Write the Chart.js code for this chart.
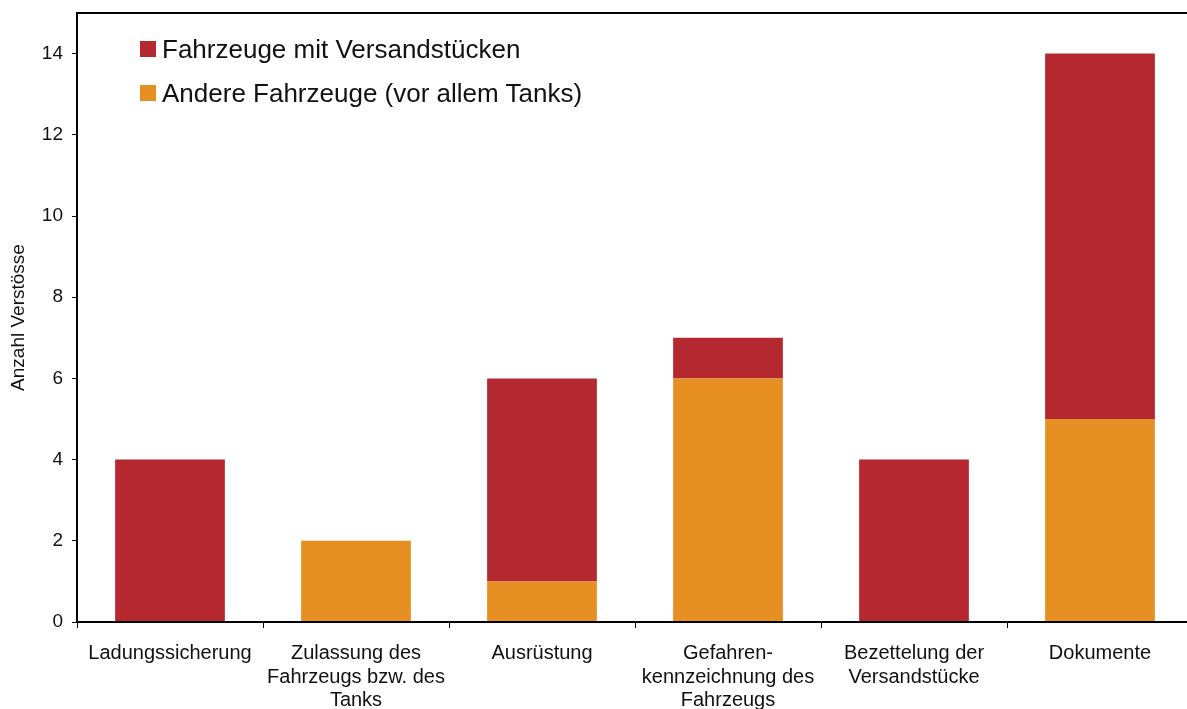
<!DOCTYPE html>
<html>
<head>
<meta charset="utf-8">
<script src="https://cdn.jsdelivr.net/npm/chart.js@4.4.1/dist/chart.umd.min.js"></script>
<style>
    html, body { margin: 0; padding: 0; background: #fff; overflow: hidden; }
    #wrap { position: relative; width: 1196px; height: 709px; }
    #legend { position: absolute; left: 140px; top: 27px; font-family: "Liberation Sans", Arial, sans-serif; font-size: 26px; color: #111; }
    #legend div { display: flex; align-items: center; height: 44px; }
    #legend span.box { display: inline-block; width: 16px; height: 16px; margin-right: 6px; }
</style>
</head>
<body>
<div id="wrap">
    <canvas id="chart" width="1196" height="709"></canvas>
    <div id="legend"></div>
</div>
<script>
// categories + values
const categories = [
    'Ladungssicherung',
    ['Zulassung des', 'Fahrzeugs bzw. des', 'Tanks'],
    'Ausrüstung',
    ['Gefahren-', 'kennzeichnung des', 'Fahrzeugs'],
    ['Bezettelung der', 'Versandstücke'],
    'Dokumente'
];
const otherVehicles = [0, 2, 1, 6, 0, 5];      // Andere Fahrzeuge (vor allem Tanks)
const packageVehicles = [4, 0, 5, 1, 4, 9];    // Fahrzeuge mit Versandstücken
const yTicks = [0, 2, 4, 6, 8, 10, 12, 14];

const RED = '#B5282F';
const ORANGE = '#E68F23';
const FONT = '"Liberation Sans", Arial, sans-serif';

// frame on top of plot area (left + bottom come from the axes)
const framePlugin = {
    id: 'frame',
    afterDraw(chart) {
        const { ctx, chartArea } = chart;
        ctx.save();
        ctx.strokeStyle = '#000';
        ctx.lineWidth = 2;
        ctx.strokeRect(chartArea.left, chartArea.top, chartArea.right - chartArea.left, chartArea.bottom - chartArea.top);
        ctx.restore();
    }
};

const chart = new Chart(document.getElementById('chart').getContext('2d'), {
    type: 'bar',
    data: {
        labels: categories,
        datasets: [
            {
                label: 'Andere Fahrzeuge (vor allem Tanks)',
                data: otherVehicles,
                backgroundColor: ORANGE,
                categoryPercentage: 1,
                barPercentage: 0.59
            },
            {
                label: 'Fahrzeuge mit Versandstücken',
                data: packageVehicles,
                backgroundColor: RED,
                categoryPercentage: 1,
                barPercentage: 0.59
            }
        ]
    },
    options: {
        responsive: false,
        animation: false,
        layout: { padding: { top: 13, right: 3, left: 0, bottom: 0 } },
        plugins: {
            legend: { display: false },
            tooltip: { enabled: false }
        },
        scales: {
            x: {
                stacked: true,
                offset: true,
                grid: { offset: true, drawOnChartArea: false, tickLength: 6, color: '#000', tickWidth: 1 },
                border: { color: '#000', width: 2 },
                ticks: { color: '#111', font: { family: FONT, size: 20, lineHeight: 1.17 }, padding: 14, maxRotation: 0, autoSkip: false },
                afterFit(scale) { scale.height = 87; }
            },
            y: {
                stacked: true,
                min: 0,
                max: 15,
                afterBuildTicks(scale) { scale.ticks = yTicks.map(v => ({ value: v })); },
                grid: { drawOnChartArea: false, tickLength: 5, color: '#000', tickWidth: 1 },
                border: { color: '#000', width: 2 },
                ticks: { color: '#111', font: { family: FONT, size: 19 }, padding: 9 },
                title: { display: true, text: 'Anzahl Verstösse', color: '#111', font: { family: FONT, size: 19 }, padding: { top: 7, bottom: 0 } },
                afterFit(scale) {
                    scale.width = 77;
                    // top tick (15) has no label, so no extra room needed above
                    scale.paddingTop = 0;
                }
            }
        }
    },
    plugins: [framePlugin]
});

// legend inside the plot, red entry first
const legendItems = [
    { text: 'Fahrzeuge mit Versandstücken', color: RED },
    { text: 'Andere Fahrzeuge (vor allem Tanks)', color: ORANGE }
];
document.getElementById('legend').innerHTML = legendItems.map(it =>
    '<div><span class="box" style="background:' + it.color + '"></span>' + it.text + '</div>'
).join('');
</script>
</body>
</html>
